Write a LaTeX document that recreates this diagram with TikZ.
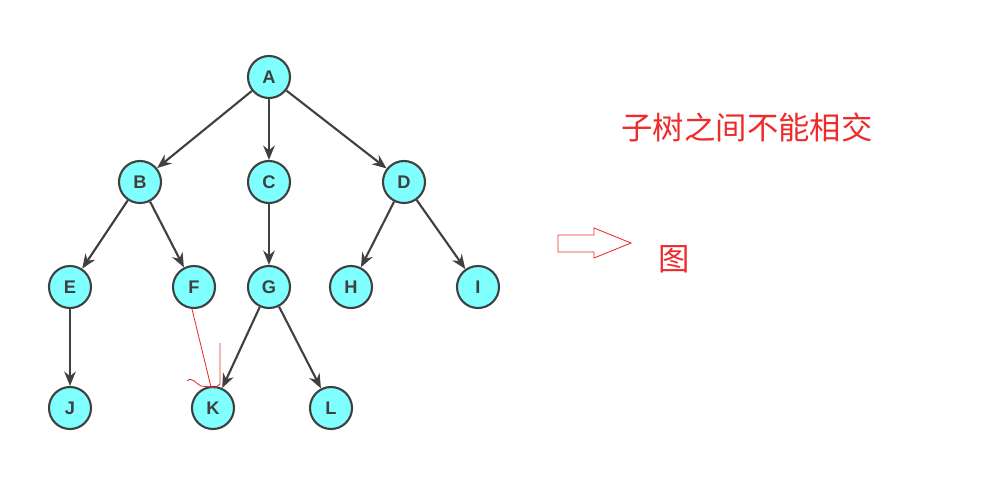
\documentclass[tikz,border=0pt]{standalone}
\usepackage{fontspec}
\setsansfont{Liberation Sans}
\newfontfamily\cjk{Noto Sans CJK SC}
\usetikzlibrary{arrows.meta}
\definecolor{nodecyan}{HTML}{80FFFF}
\definecolor{edgegray}{HTML}{404040}
\definecolor{markred}{HTML}{EE2A2A}
\tikzset{
  vtx/.style={circle, draw=edgegray, line width=1.5pt, fill=nodecyan,
              minimum size=1.05cm, inner sep=0pt,
              font=\sffamily\bfseries\fontsize{13}{13}\selectfont, text=edgegray},
  link/.style={-{Stealth[length=3.6mm, width=2.9mm]}, line width=1.5pt, draw=edgegray},
  note/.style={text=markred, font=\cjk\fontsize{22.3}{22}\selectfont},
  pen/.style={draw=markred, line width=0.6pt},
}
\begin{document}
\begin{tikzpicture}[x=0.025cm, y=-0.025cm]
  \useasboundingbox (0,0) rectangle (994,483);
  % the tree
  \node[vtx] (A) at (269,77) {A};
  \node[vtx] (B) at (140,182) {B};
  \node[vtx] (C) at (269,182) {C};
  \node[vtx] (D) at (404,182) {D};
  \node[vtx] (E) at (70,287) {E};
  \node[vtx] (F) at (194,287) {F};
  \node[vtx] (G) at (269,287) {G};
  \node[vtx] (H) at (351,287) {H};
  \node[vtx] (I) at (478,287) {I};
  \node[vtx] (J) at (70,408) {J};
  \node[vtx] (K) at (213,408) {K};
  \node[vtx] (L) at (331,408) {L};
  \foreach \a/\b in {A/B, A/C, A/D, B/E, B/F, C/G, D/H, D/I, E/J, G/K, G/L}
    \draw[link] (\a) -- (\b);
  % hand-drawn marks
  \coordinate (kin) at (211,387);
  \draw[pen] (F.south) ++(-2,0) -- (kin);
  \draw[pen] (220,343) -- (220,384) -- (215,388) -- (kin);
  \draw[pen] (187,381) .. controls (192,376) and (196,384) .. (201,386) -- (kin);
  % hollow arrow
  \draw[pen] (558,235) -- (594,235) -- (594,228) -- (631,243) -- (594,258)
    -- (594,252) -- (558,252) -- cycle;
  \node[note] (rule) at (747,127) {子树之间不能相交};
  \node[note] (graph) at (674,259) {图};
\end{tikzpicture}
\end{document}
